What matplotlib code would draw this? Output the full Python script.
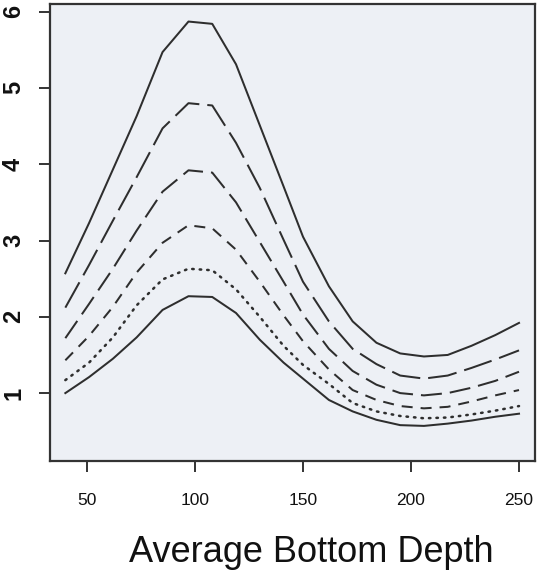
import matplotlib
matplotlib.use("Agg")
import matplotlib.pyplot as plt

plt.rcParams['font.family'] = ['Liberation Sans', 'DejaVu Sans']

depth = [40, 51, 62, 73, 85, 97, 108, 119, 130, 141, 150, 162, 173, 184, 195, 206, 217, 228, 239, 250]

curve1 = [2.57, 3.23, 3.93, 4.63, 5.47, 5.87, 5.84, 5.31, 4.51, 3.71, 3.05, 2.40, 1.94, 1.66, 1.52, 1.48, 1.50, 1.62, 1.76, 1.92]
curve2 = [2.12, 2.68, 3.26, 3.83, 4.47, 4.80, 4.77, 4.28, 3.69, 3.01, 2.46, 1.94, 1.58, 1.38, 1.23, 1.19, 1.23, 1.33, 1.44, 1.56]
curve3 = [1.72, 2.17, 2.63, 3.13, 3.64, 3.92, 3.89, 3.50, 2.98, 2.46, 2.03, 1.58, 1.29, 1.11, 1.00, 0.97, 1.00, 1.07, 1.16, 1.28]
curve4 = [1.43, 1.75, 2.13, 2.58, 2.97, 3.20, 3.16, 2.88, 2.46, 2.02, 1.68, 1.31, 1.04, 0.91, 0.83, 0.80, 0.82, 0.89, 0.97, 1.04]
curve5 = [1.17, 1.40, 1.73, 2.15, 2.49, 2.63, 2.61, 2.36, 2.00, 1.62, 1.37, 1.12, 0.87, 0.76, 0.70, 0.67, 0.68, 0.72, 0.77, 0.83]
curve6 = [1.00, 1.21, 1.45, 1.73, 2.09, 2.27, 2.26, 2.05, 1.70, 1.40, 1.19, 0.91, 0.76, 0.65, 0.58, 0.57, 0.60, 0.64, 0.69, 0.73]

x_ticks = [50, 100, 150, 200, 250]
y_ticks = [1, 2, 3, 4, 5, 6]
x_label = "Average Bottom Depth"

W, H = 541, 578
fig = plt.figure(figsize=(W / 100, H / 100), dpi=100)
fig.patch.set_facecolor('white')
ax = fig.add_axes([50 / W, 1 - 461 / H, (535 - 50) / W, (461 - 4) / H])
ax.set_facecolor('#edf0f5')

col = '#2e2e2e'
lw = 1.45
px = 0.72 / lw  # pixels -> linewidth units

styles = [
    (curve1, '-'),
    (curve2, (0, (29 * px, 8 * px))),
    (curve3, (0, (21 * px, 8 * px))),
    (curve4, (0, (11 * px, 8 * px))),
    (curve5, (0, (1.5 * px, 6 * px))),
    (curve6, '-'),
]
for ys, ls in styles:
    w = lw * 1.25 if ys is curve5 else lw
    line, = ax.plot(depth, ys, color=col, lw=w, linestyle=ls)
    if ys is curve5:
        line.set_dashes((1.5 * 0.72 / w, 6 * 0.72 / w))
        line.set_dash_capstyle('round')

ax.set_xlim(32.9, 257.4)
ax.set_ylim(0.11, 6.1)
ax.set_xticks(x_ticks)
ax.set_yticks(y_ticks)

for s in ax.spines.values():
    s.set_color('#333333')
    s.set_linewidth(1.6)

ax.tick_params(axis='x', direction='out', length=8, width=1.4, color='#333333',
               pad=15, labelsize=12.5, labelcolor='#111111')
ax.tick_params(axis='y', direction='out', length=8, width=1.4, color='#333333',
               pad=10, labelsize=17, labelcolor='#111111')
for lab in ax.get_yticklabels():
    lab.set_rotation(90)
    lab.set_fontweight('bold')
    lab.set_va('center')

ax.set_xlabel(x_label, fontsize=26, color='#111111', va='baseline')
ax.xaxis.set_label_coords((311.5 - 50) / 485, (461 - 562) / 457)

fig.savefig('out.png', dpi=100, facecolor='white')
